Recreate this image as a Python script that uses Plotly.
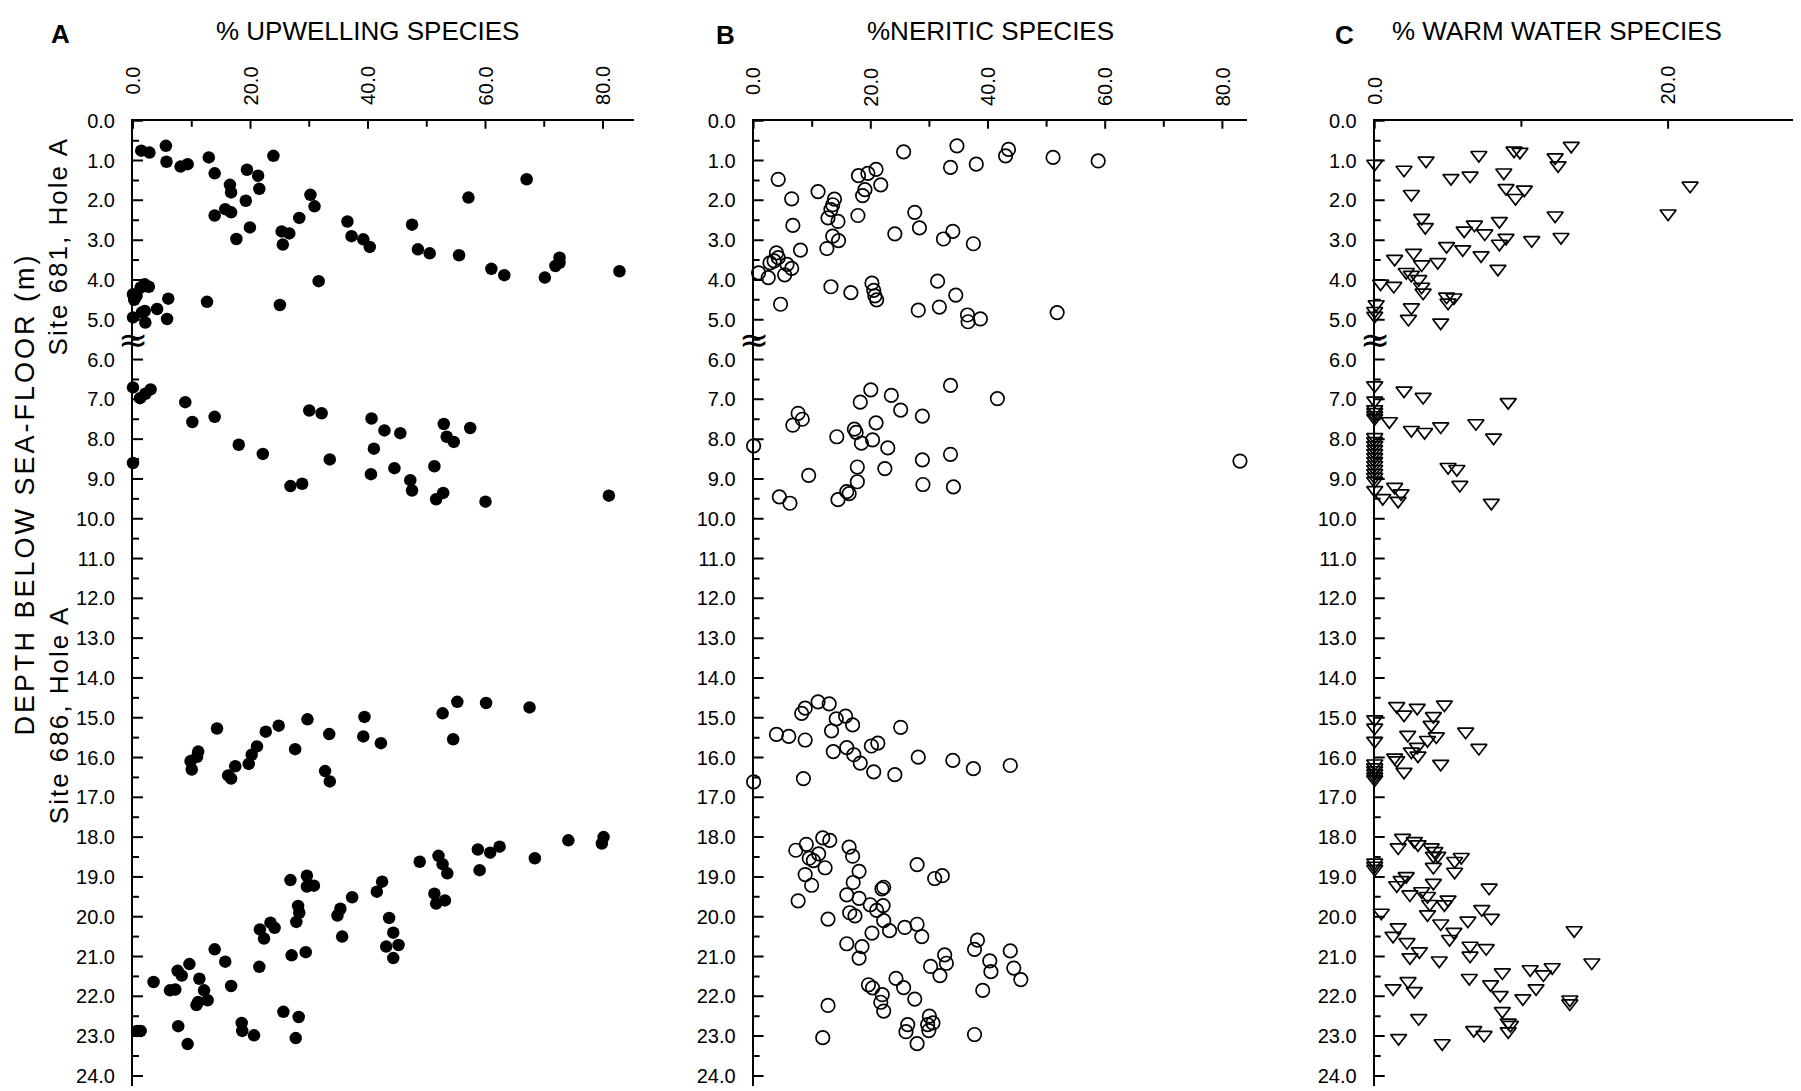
import plotly.graph_objects as go

W, H = 1801, 1091

# ---------------- data (depth in m, percentage) ----------------
# Panel A: % upwelling species (filled circles)
a_depth = [0.75, 0.80, 0.63, 1.03, 1.15, 1.09, 0.92, 1.32, 0.88, 1.23, 1.38, 1.71, 1.61, 1.80, 2.01,
           2.38, 2.22, 2.30, 2.68, 2.97, 1.86, 2.15, 2.44, 2.78, 2.83, 3.11, 4.03, 2.53, 2.90, 2.98,
           3.17, 2.61, 3.23, 3.33, 3.38, 1.93, 1.47, 3.72, 3.88, 3.94, 3.44, 3.57, 3.65, 3.78, 4.36,
           4.40, 4.19, 4.11, 4.17, 4.50, 4.47, 4.55, 4.63, 4.94, 4.78, 5.07, 4.73, 4.98, 4.82,
           6.70, 6.97, 6.86, 6.75, 7.07, 7.57, 7.44, 8.14, 8.37, 7.28, 7.35, 8.51, 8.60, 9.18, 9.12,
           7.48, 7.78, 7.85, 8.24, 8.88, 8.73, 9.03, 9.29, 8.68, 9.51, 9.35, 7.62, 7.94, 8.07, 7.72,
           9.57, 9.42,
           14.60, 14.63, 14.74, 14.89, 15.54, 14.98, 15.47, 15.64, 15.04, 15.41, 15.79, 15.20, 15.35,
           15.72, 15.93, 16.16, 16.22, 16.45, 16.53, 15.27, 15.85, 15.98, 16.09, 16.30, 16.34, 16.60,
           18.00, 18.16, 18.08, 18.53, 18.24, 18.39, 18.31, 18.83, 18.62, 18.47, 18.68, 18.91, 19.42,
           19.67, 19.59, 19.12, 19.37, 19.51, 19.80, 19.97, 20.50, 20.03, 20.40, 20.75, 20.71, 21.04,
           19.08, 18.97, 19.24, 19.22, 19.73, 19.90, 20.13, 20.97, 20.89, 20.32, 20.55, 20.15, 20.28,
           21.26, 20.82, 21.13, 21.74, 21.19, 21.36, 21.48, 21.64, 21.85, 21.83, 21.56, 21.85, 22.14,
           22.22, 22.10, 22.87, 22.87, 22.75, 23.20, 22.67, 22.87, 22.98, 22.39, 22.52, 23.05]
a_pct = [1.4, 2.8, 5.6, 5.7, 8.1, 9.3, 12.9, 13.9, 23.9, 19.4, 21.3, 21.5, 16.5, 16.7, 19.2,
         13.9, 15.7, 16.7, 19.9, 17.6, 30.2, 30.9, 28.3, 25.3, 26.6, 25.5, 31.6, 36.5, 37.2, 39.2,
         40.3, 47.5, 48.5, 50.5, 55.5, 57.1, 67.0, 61.0, 63.2, 70.1, 72.6, 72.6, 71.9, 82.8, 0.0,
         0.6, 1.3, 2.0, 2.7, 0.2, 6.0, 12.6, 25.0, 0.0, 2.0, 2.1, 4.1, 5.8, 1.5,
         0.0, 1.2, 2.1, 3.0, 8.9, 10.1, 13.9, 18.0, 22.1, 30.0, 32.1, 33.5, 0.0, 26.8, 28.8,
         40.6, 42.8, 45.5, 41.0, 40.5, 44.5, 47.2, 47.5, 51.3, 51.6, 52.8, 52.9, 53.4, 54.6, 57.4,
         60.0, 81.0,
         55.2, 60.1, 67.5, 52.7, 54.5, 39.4, 39.2, 42.2, 29.7, 33.4, 27.6, 24.8, 22.6,
         21.1, 20.2, 19.7, 17.4, 16.2, 16.7, 14.3, 11.1, 10.9, 9.8, 10.0, 32.7, 33.5,
         80.1, 79.8, 74.1, 68.4, 62.4, 60.8, 58.7, 59.0, 48.8, 52.0, 52.7, 53.5, 51.3,
         51.6, 53.1, 42.4, 41.5, 37.3, 35.3, 34.8, 35.6, 43.6, 44.3, 43.1, 45.2, 44.3,
         26.8, 29.6, 29.6, 30.8, 28.1, 28.3, 27.8, 27.0, 29.4, 21.6, 22.3, 23.4, 24.1,
         21.5, 13.9, 15.7, 16.7, 9.6, 7.6, 8.3, 3.5, 6.3, 7.2, 11.3, 12.1, 11.1,
         10.8, 12.7, 1.3, 0.7, 7.7, 9.3, 18.5, 18.6, 20.6, 25.6, 28.2, 27.7]

# Panel B: % neritic species (open circles)
b_depth = [0.78, 0.63, 1.17, 1.09, 0.88, 0.72, 0.92, 1.01, 1.47, 1.78, 1.96, 2.63, 3.25, 1.97, 2.11,
           2.23, 2.44, 2.53, 2.90, 3.01, 3.21, 1.38, 1.32, 1.22, 1.61, 1.73, 1.88, 2.38, 2.84, 2.30,
           2.69, 2.97, 2.78, 3.09, 3.32, 3.44, 3.57, 3.52, 3.61, 3.71, 3.87, 3.82, 3.94, 4.17, 4.32,
           4.08, 4.26, 4.40, 4.50, 4.61, 4.03, 4.38, 4.76, 4.68, 4.88, 5.05, 4.98, 4.82,
           8.17, 9.45, 9.61, 8.91, 7.35, 7.50, 7.65, 7.94, 9.52, 9.32, 9.37, 9.07, 8.70, 7.75, 7.83,
           8.10, 7.07, 6.76, 8.02, 7.59, 8.22, 8.74, 6.90, 7.27, 7.42, 8.52, 9.14, 6.65, 8.38, 9.20,
           6.98, 8.55,
           14.60, 14.65, 14.76, 14.89, 15.03, 14.96, 15.18, 15.33, 15.24, 15.42, 15.47, 15.56, 15.85,
           15.75, 15.93, 16.14, 15.71, 15.64, 16.36, 16.43, 15.99, 16.07, 16.28, 16.20, 16.61, 16.53,
           18.02, 18.08, 18.18, 18.33, 18.42, 18.53, 18.59, 18.77, 18.94, 19.21, 19.60, 18.25, 18.48,
           18.86, 19.14, 18.69, 19.04, 18.97, 19.45, 19.54, 19.70, 19.30, 19.26, 19.72, 19.84, 19.90,
           19.98, 20.06, 20.10, 20.35, 20.41, 20.27, 20.19, 20.50, 20.68, 20.75, 21.04, 20.59, 20.82,
           20.86, 21.11, 21.38, 21.29, 21.58, 21.85, 20.96, 21.17, 21.25, 21.48, 21.55, 21.78, 21.71,
           21.79, 21.96, 22.15, 22.37, 22.07, 22.23, 23.04, 22.50, 22.67, 22.71, 22.86, 22.71, 22.89,
           23.19, 22.96]
b_pct = [25.6, 34.7, 33.6, 38.0, 43.0, 43.5, 51.1, 58.8, 4.2, 11.0, 6.5, 6.7, 8.0, 13.8, 13.5,
         13.2, 12.7, 14.4, 13.5, 14.5, 12.5, 17.9, 19.5, 20.9, 21.7, 19.0, 18.6, 17.8, 24.1, 27.5,
         28.3, 32.4, 34.0, 37.5, 3.9, 4.2, 2.8, 3.5, 5.7, 6.5, 5.3, 0.85, 2.5, 13.2, 16.6,
         20.2, 20.5, 20.7, 21.0, 4.6, 31.4, 34.5, 28.1, 31.7, 36.5, 36.6, 38.7, 51.8,
         0.0, 4.4, 6.2, 9.4, 7.6, 8.3, 6.7, 14.2, 14.4, 15.9, 16.3, 17.7, 17.7, 17.2, 17.5,
         18.4, 18.2, 20.0, 20.3, 20.9, 22.9, 22.4, 23.5, 25.1, 28.8, 28.8, 28.9, 33.6, 33.6, 34.1,
         41.6, 83.0,
         11.0, 12.9, 8.8, 8.2, 14.1, 15.7, 16.9, 13.3, 25.1, 3.9, 6.0, 8.8, 13.6,
         15.9, 17.1, 18.2, 20.1, 21.2, 20.5, 24.1, 28.1, 34.0, 37.5, 43.8, 0.0, 8.5,
         11.8, 13.0, 9.0, 7.2, 11.1, 9.5, 10.2, 12.2, 8.8, 9.9, 7.6, 16.3, 16.9,
         18.0, 17.0, 27.9, 30.9, 32.2, 15.9, 18.0, 19.9, 21.9, 22.2, 22.1, 21.0, 16.4,
         17.3, 12.7, 22.2, 23.2, 20.2, 25.8, 27.9, 28.7, 15.9, 18.5, 18.0, 38.2, 37.7,
         43.8, 40.3, 40.5, 44.4, 45.6, 39.1, 32.6, 32.9, 30.2, 31.8, 24.3, 25.6, 19.6,
         20.3, 21.95, 21.7, 22.2, 27.5, 12.7, 11.8, 30.0, 30.6, 29.7, 29.9, 26.3, 26.0,
         27.9, 37.7]

# Panel C: % warm water species (open down-triangles)
c_depth = [1.08, 1.23, 1.00, 1.84, 1.44, 1.38, 0.86, 1.30, 0.75, 0.78, 1.69, 1.94, 1.73, 0.92, 1.12,
           0.63, 1.63, 2.33, 2.38, 2.92, 3.00, 2.94, 2.52, 3.09, 2.83, 2.61, 2.76, 2.44, 2.67, 3.15,
           3.23, 3.38, 3.72, 3.47, 3.32, 3.61, 3.55, 3.80, 3.87, 3.98, 4.17, 4.32, 4.09, 4.15, 4.42,
           4.44, 4.57, 4.61, 4.78, 4.90, 4.69, 4.98, 5.07,
           6.65, 6.78, 6.94, 7.07, 7.03, 7.25, 7.32, 7.40, 7.47, 7.55, 7.77, 7.82, 7.68, 7.60, 7.96,
           7.95, 8.05, 8.15, 8.25, 8.35, 8.45, 8.55, 8.65, 8.75, 8.85, 8.95, 9.05, 8.70, 8.75, 9.15,
           9.20, 9.36, 9.55, 9.28, 9.48, 9.60,
           14.71, 14.75, 14.67, 14.92, 14.96, 15.04, 15.25, 15.58, 15.18, 15.47, 15.56, 15.43, 15.35,
           15.73, 15.85, 15.95, 15.76, 16.00, 16.07, 16.36, 16.16, 16.15, 16.25, 16.32, 16.40, 16.48,
           16.55,
           18.02, 18.26, 18.10, 18.18, 18.26, 18.35, 18.47, 18.47, 18.60, 18.50, 18.75, 18.87, 18.64,
           18.72, 18.80, 18.98, 19.08, 19.21, 19.15, 19.44, 19.36, 19.48, 19.27, 19.57, 19.69, 19.68,
           19.94, 19.90, 19.81, 20.03, 20.10, 20.17, 20.38, 20.56, 20.27, 20.48, 20.64, 20.87, 21.02,
           21.10, 20.73, 20.98, 20.79, 20.34, 21.15, 21.54, 21.40, 21.32, 21.45, 21.27, 21.80, 22.05,
           21.70, 21.97, 22.37, 22.66, 22.72, 22.88, 22.08, 22.18, 21.80, 21.62, 21.87, 22.55, 23.05,
           22.85, 22.97, 23.18]
c_pct = [0.0, 2.0, 3.5, 2.5, 5.2, 6.5, 7.1, 8.8, 9.5, 9.9, 8.95, 9.6, 10.2, 12.3, 12.5,
         13.4, 21.5, 20.0, 12.3, 12.7, 10.7, 8.95, 8.5, 8.5, 7.5, 6.8, 6.1, 3.2, 3.45, 4.9,
         6.0, 7.25, 8.4, 1.36, 2.65, 3.2, 4.3, 2.15, 2.5, 3.0, 3.2, 3.3, 0.4, 1.3, 4.9,
         5.4, 5.0, 0.1, 0.0, 0.0, 2.5, 2.3, 4.5,
         0.0, 2.0, 3.3, 9.1, 0.0, 0.0, 0.0, 0.0, 0.0, 1.0, 2.5, 3.4, 4.5, 6.9, 8.1,
         0.0, 0.0, 0.0, 0.0, 0.0, 0.0, 0.0, 0.0, 0.0, 0.0, 0.0, 0.0, 5.0, 5.6, 5.8,
         1.36, 1.8, 1.6, 0.0, 0.55, 7.95,
         1.5, 2.9, 4.75, 2.0, 4.0, 0.0, 0.0, 0.0, 3.85, 4.2, 3.6, 2.25, 6.2,
         2.9, 2.5, 2.95, 7.1, 1.36, 1.5, 2.0, 4.5, 0.0, 0.0, 0.0, 0.0, 0.0,
         0.0,
         1.9, 1.6, 2.7, 2.95, 3.85, 4.1, 4.0, 4.3, 5.45, 5.9, 4.0, 5.45, 0.0,
         0.0, 0.0, 2.15, 1.8, 1.5, 4.0, 2.4, 3.2, 3.6, 7.8, 5.0, 4.75, 3.75,
         3.6, 0.45, 7.3, 7.95, 6.35, 4.5, 5.4, 5.1, 1.6, 1.25, 2.2, 3.05, 2.4,
         4.4, 6.5, 6.5, 7.6, 13.6, 14.8, 6.45, 8.7, 10.6, 11.5, 12.1, 11.0, 10.1,
         7.9, 8.55, 8.7, 9.1, 9.25, 9.1, 13.3, 13.3, 1.25, 2.27, 2.7, 3.0, 1.63,
         6.75, 7.45, 4.6]

# ---------------- ticks / labels ----------------
y_major = [float(v) for v in range(0, 25)]
y_labels = ["%.1f" % v for v in y_major]
y_minor = [v + 0.5 for v in range(0, 24)]
ab_x_major = [0, 20, 40, 60, 80]
ab_x_labels = ["0.0", "20.0", "40.0", "60.0", "80.0"]
ab_x_minor = [10, 30, 50, 70]
c_x_major = [0, 20]
c_x_labels = ["0.0", "20.0"]
c_x_minor = [10]

panel_titles = ["% UPWELLING SPECIES", "%NERITIC SPECIES", "% WARM WATER SPECIES"]
panel_letters = ["A", "B", "C"]

FONT = "Liberation Sans, Arial, Helvetica, sans-serif"

def px(x):
    return x / W

def py(y):
    return 1 - y / H

Y_TOP, Y_BOT = 111.0, 1086.8
Y_RANGE = [24.25, 0]

panels = [
    dict(n="", left=133.0, xmax=85.3, depth=a_depth, val=a_pct,
         marker=dict(symbol="circle", size=12.5, color="black"),
         xmaj=ab_x_major, xlab=ab_x_labels, xmin=ab_x_minor,
         lab_anchor="top", lab_y=55.0,
         letter_xy=(61, 23), title_xy=(367, 20)),
    dict(n="2", left=753.6, xmax=84.2, depth=b_depth, val=b_pct,
         marker=dict(symbol="circle-open", size=13.5, color="black", line=dict(width=1.7, color="black")),
         xmaj=ab_x_major, xlab=ab_x_labels, xmin=ab_x_minor,
         lab_anchor="top", lab_y=56.0,
         letter_xy=(725, 24), title_xy=(991, 20)),
    dict(n="3", left=1374.7, xmax=28.5, depth=c_depth, val=c_pct,
         marker=dict(symbol="triangle-down-open", size=14, color="black", line=dict(width=1.7, color="black")),
         xmaj=c_x_major, xlab=c_x_labels, xmin=c_x_minor,
         lab_anchor="bottom", lab_y=96.0,
         letter_xy=(1344, 24), title_xy=(1557, 20)),
]
scales = [5.875, 5.86, 14.67]

fig = go.Figure()
shapes = []
annotations = []
layout = dict()

for p, s in zip(panels, scales):
    n = p["n"]
    xr, yr = "x" + n, "y" + n
    right = p["left"] + p["xmax"] * s
    fig.add_trace(go.Scatter(
        x=p["val"], y=p["depth"], mode="markers", xaxis=xr, yaxis=yr,
        marker=p["marker"], cliponaxis=False, showlegend=False, hoverinfo="x+y"))
    layout["xaxis" + n] = dict(
        domain=[px(p["left"]), px(right)], range=[0, p["xmax"]], side="top", anchor=yr,
        showline=True, linecolor="black", linewidth=2, showgrid=False, zeroline=False,
        showticklabels=False, ticks="", fixedrange=True)
    layout["yaxis" + n] = dict(
        domain=[py(Y_BOT), py(Y_TOP)], range=Y_RANGE, anchor=xr,
        showline=True, linecolor="black", linewidth=2, showgrid=False, zeroline=False,
        ticks="", tickmode="array", tickvals=y_major, ticktext=y_labels,
        tickfont=dict(family=FONT, size=20, color="black"), ticklabelstandoff=12,
        fixedrange=True)
    line = dict(color="black", width=2)
    for v in y_major:
        shapes.append(dict(type="line", xref=xr, yref=yr, xsizemode="pixel", xanchor=0,
                           x0=-10, x1=10, y0=v, y1=v, line=line))
    for v in y_minor:
        shapes.append(dict(type="line", xref=xr, yref=yr, xsizemode="pixel", xanchor=0,
                           x0=-6, x1=6, y0=v, y1=v, line=line))
    for v in p["xmaj"]:
        shapes.append(dict(type="line", xref=xr, yref=yr, ysizemode="pixel", yanchor=0,
                           y0=-8, y1=8, x0=v, x1=v, line=line))
    for v in p["xmin"]:
        shapes.append(dict(type="line", xref=xr, yref=yr, ysizemode="pixel", yanchor=0,
                           y0=-6, y1=6, x0=v, x1=v, line=line))
    for v, t in zip(p["xmaj"], p["xlab"]):
        annotations.append(dict(x=v, xref=xr, y=py(p["lab_y"]), yref="paper", text=t,
                                textangle=-90, showarrow=False, xanchor="center",
                                yanchor=p["lab_anchor"], borderpad=0,
                                font=dict(family=FONT, size=20, color="black")))
    # axis break symbol
    annotations.append(dict(x=0, xref=xr, y=5.5, yref=yr, text="\u2248", showarrow=False,
                            xanchor="center", yanchor="middle",
                            font=dict(family="DejaVu Sans", size=36, color="black")))

for p, letter, title in zip(panels, panel_letters, panel_titles):
    lx, ly = p["letter_xy"]
    tx, ty = p["title_xy"]
    annotations.append(dict(x=px(lx), y=py(ly), xref="paper", yref="paper", text="<b>%s</b>" % letter,
                            showarrow=False, xanchor="center", yanchor="middle",
                            font=dict(family=FONT, size=26, color="black")))
    annotations.append(dict(x=px(tx), y=py(ty), xref="paper", yref="paper", text=title,
                            showarrow=False, xanchor="center", yanchor="middle",
                            font=dict(family=FONT, size=26, color="black")))

# vertical axis titles
annotations.append(dict(x=px(25), y=py(489), xref="paper", yref="paper",
                        text='<span style="letter-spacing:3px">DEPTH BELOW SEA-FLOOR (m)</span>',
                        textangle=-90, showarrow=False, xanchor="center", yanchor="middle",
                        font=dict(family=FONT, size=27, color="black")))
annotations.append(dict(x=px(58), y=py(238), xref="paper", yref="paper",
                        text='<span style="letter-spacing:2px">Site 681, Hole A</span>',
                        textangle=-90, showarrow=False, xanchor="center", yanchor="middle",
                        font=dict(family=FONT, size=26, color="black")))
annotations.append(dict(x=px(59), y=py(712), xref="paper", yref="paper",
                        text='<span style="letter-spacing:2px">Site 686, Hole A</span>',
                        textangle=-90, showarrow=False, xanchor="center", yanchor="middle",
                        font=dict(family=FONT, size=26, color="black")))

fig.update_layout(**layout)
fig.update_layout(
    width=W, height=H, autosize=False,
    margin=dict(l=0, r=0, t=0, b=0, pad=0),
    paper_bgcolor="white", plot_bgcolor="white",
    showlegend=False, shapes=shapes, annotations=annotations,
    font=dict(family=FONT, color="black"),
)

fig.write_html("out.html", config={"displayModeBar": False},
               post_script="document.body.style.margin='0';")
